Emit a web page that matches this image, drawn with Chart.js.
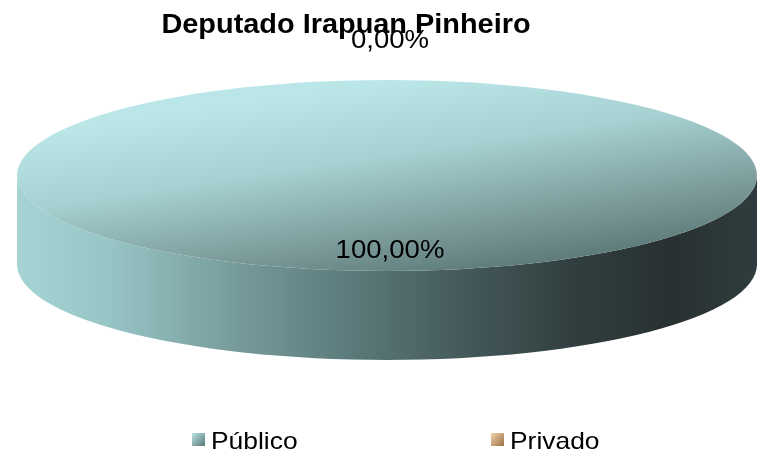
<!DOCTYPE html>
<html>
<head>
<meta charset="utf-8">
<script src="https://cdn.jsdelivr.net/npm/chart.js@4.4.1/dist/chart.umd.min.js"></script>
<style>
  html, body { margin: 0; padding: 0; background: #fff; }
  canvas { display: block; }
</style>
</head>
<body>
<canvas id="pizza" width="761" height="450"></canvas>
<script>
var categorias = ['Público', 'Privado'];
var valores = [100, 0];
var rotulos = ['100,00%', '0,00%'];
var titulo = 'Deputado Irapuan Pinheiro';

// cor clara / media / escura de cada fatia (gradiente)
var coresClaras = ['#bae6e8', '#f5d2ac'];
var coresMedias = ['#a6d0d1', '#e2b98c'];
var coresEscuras = ['#5a7776', '#9a7246'];

// vista "3D": o disco do Chart.js e achatado na vertical
var vista = { centroY: 175.5, achatamento: 0.258, profundidade: 89 };
var fonte = 'Arial, "Liberation Sans", sans-serif';

function centroArco(chart) {
  var a = chart.chartArea;
  return { x: (a.left + a.right) / 2, y: (a.top + a.bottom) / 2 };
}

// gradiente do topo, definido nas coordenadas antes do achatamento
function corTopo(ctx) {
  var chart = ctx.chart;
  var i = ctx.dataIndex;
  if (!chart.chartArea) return coresMedias[i];
  var c = centroArco(chart);
  var paraArco = function (ys) { return c.y + (ys - vista.centroY) / vista.achatamento; };
  var g = chart.ctx.createLinearGradient(240, paraArco(105), 590, paraArco(262));
  g.addColorStop(0, coresClaras[i]);
  g.addColorStop(0.35, coresMedias[i]);
  g.addColorStop(0.72, '#7d9d9c');
  g.addColorStop(1, coresEscuras[i]);
  return g;
}

function textoEsticado(ctx, str, x, y, font, sx, align) {
  ctx.save();
  ctx.translate(x, y);
  ctx.scale(sx, 1);
  ctx.font = font;
  ctx.fillStyle = '#000';
  ctx.textAlign = align;
  ctx.textBaseline = 'alphabetic';
  ctx.fillText(str, 0, 0);
  ctx.restore();
}

var pizza3d = {
  id: 'pizza3d',
  beforeDatasetsDraw: function (chart) {
    var ctx = chart.ctx;
    var meta = chart.getDatasetMeta(0);
    // lateral do disco (so a metade da frente aparece)
    meta.data.forEach(function (arc, i) {
      var rx = arc.outerRadius, ry = rx * vista.achatamento;
      var cy = vista.centroY, h = vista.profundidade;
      var faixas = [[0, Math.PI], [2 * Math.PI, 3 * Math.PI]];
      faixas.forEach(function (f) {
        var a0 = Math.max(arc.startAngle, f[0]);
        var a1 = Math.min(arc.endAngle, f[1]);
        if (a1 <= a0) return;
        var g = ctx.createLinearGradient(arc.x - rx, 0, arc.x + rx, 0);
        if (i === 0) {
          g.addColorStop(0, '#a6d3d4');
          g.addColorStop(0.12, '#98c5c6');
          g.addColorStop(0.3, '#769a9a');
          g.addColorStop(0.45, '#5c7a7b');
          g.addColorStop(0.6, '#455a5b');
          g.addColorStop(0.76, '#303d3e');
          g.addColorStop(0.88, '#283132');
          g.addColorStop(1, '#2f3b3c');
        } else {
          g.addColorStop(0, coresClaras[i]);
          g.addColorStop(1, coresEscuras[i]);
        }
        ctx.save();
        ctx.beginPath();
        ctx.ellipse(arc.x, cy, rx, ry, 0, a0, a1);
        ctx.ellipse(arc.x, cy + h, rx, ry, 0, a1, a0, true);
        ctx.closePath();
        ctx.fillStyle = g;
        ctx.fill();
        ctx.restore();
      });
    });
    // topo: achata o desenho do Chart.js
    var c = centroArco(chart);
    ctx.save();
    ctx.translate(c.x, vista.centroY);
    ctx.scale(1, vista.achatamento);
    ctx.translate(-c.x, -c.y);
  },
  afterDatasetsDraw: function (chart) {
    chart.ctx.restore();
  },
  afterDraw: function (chart) {
    var ctx = chart.ctx;
    var meta = chart.getDatasetMeta(0);
    // rotulos de valor
    meta.data.forEach(function (arc, i) {
      var meio = (arc.startAngle + arc.endAngle) / 2;
      var rx = arc.outerRadius, ry = rx * vista.achatamento;
      var fator = arc.circumference > 0.3 ? 0.76 : 1.44;
      var x = arc.x + Math.cos(meio) * rx * fator;
      var y = vista.centroY + Math.sin(meio) * ry * fator;
      textoEsticado(ctx, rotulos[i], x + 3, y + 9.5, '26px ' + fonte, 1.06, 'center');
    });
    // titulo
    textoEsticado(ctx, titulo, 346, 33, 'bold 27px ' + fonte, 1.07, 'center');
    // legenda
    var legX = [192, 491];
    categorias.forEach(function (nome, i) {
      var x = legX[i], y = 433, s = 13;
      var g = ctx.createLinearGradient(x, y, x + s, y + s);
      g.addColorStop(0, coresClaras[i]);
      g.addColorStop(1, coresEscuras[i]);
      ctx.fillStyle = g;
      ctx.fillRect(x, y, s, s);
      textoEsticado(ctx, nome, x + 19, 449, '24px ' + fonte, 1.1, 'left');
    });
  }
};

new Chart(document.getElementById('pizza'), {
  type: 'pie',
  data: {
    labels: categorias,
    datasets: [{
      data: valores,
      backgroundColor: corTopo,
      borderWidth: 0,
      radius: 370,
      clip: false
    }]
  },
  options: {
    responsive: false,
    animation: false,
    events: [],
    layout: { padding: { left: 13 } },
    plugins: {
      legend: { display: false },
      title: { display: false },
      tooltip: { enabled: false }
    }
  },
  plugins: [pizza3d]
});
</script>
</body>
</html>
